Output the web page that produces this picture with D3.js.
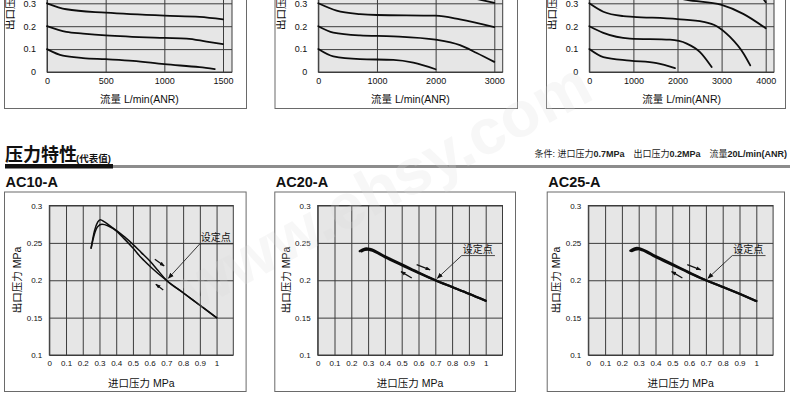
<!DOCTYPE html>
<html>
<head>
<meta charset="utf-8">
<script src="https://d3js.org/d3.v7.min.js"></script>
<style>
  body { margin: 0; background: #fff; }
  svg text { font-family: "Liberation Sans", Arial, "Noto Sans CJK SC", sans-serif; }
</style>
</head>
<body>
<svg id="chart" width="790" height="395"></svg>
<script>
// ---- data: flow characteristics (top row, only lower part visible) ----
const flowXTicks1 = [0, 500, 1000, 1500];
const flowXTicks2 = [0, 1000, 2000, 3000];
const flowXTicks3 = [0, 1000, 2000, 3000, 4000];
const flowYTicks = [0, 0.1, 0.2, 0.3];

const flow1Set03 = [[0, 0.3], [165, 0.274], [500, 0.259], [1000, 0.246], [1300, 0.241], [1500, 0.23]];
const flow1Set02 = [[0, 0.2], [165, 0.175], [307, 0.168], [500, 0.16], [1000, 0.149], [1190, 0.146], [1360, 0.133], [1500, 0.122]];
const flow1Set01 = [[0, 0.1], [136, 0.071], [307, 0.061], [500, 0.056], [733, 0.049], [1000, 0.034], [1300, 0.021], [1430, 0.013]];

const flow2Set04 = [[0, 0.4], [300, 0.365], [1000, 0.35], [2000, 0.345], [2500, 0.33], [2750, 0.316], [3000, 0.302]];
const flow2Set03 = [[0, 0.3], [312, 0.268], [710, 0.253], [1000, 0.249], [2000, 0.246], [2415, 0.23], [3000, 0.196]];
const flow2Set02 = [[0, 0.2], [256, 0.172], [710, 0.16], [1278, 0.156], [2000, 0.141], [2415, 0.117], [2700, 0.083], [3000, 0.044]];
const flow2Set01 = [[0, 0.1], [256, 0.068], [710, 0.056], [1278, 0.053], [1620, 0.041], [2000, 0.012]];

const flow3Set05 = [[0, 0.5], [1000, 0.44], [3000, 0.41], [3700, 0.37], [4000, 0.305]];
const flow3Set04 = [[0, 0.4], [300, 0.36], [1000, 0.345], [1500, 0.335], [2000, 0.323], [2210, 0.315], [3000, 0.293], [3490, 0.254], [4000, 0.191]];
const flow3Set03 = [[0, 0.3], [318, 0.263], [771, 0.244], [1000, 0.241], [2000, 0.231], [2590, 0.219], [2890, 0.2], [3190, 0.153], [3500, 0.08], [3650, 0.029]];
const flow3Set02 = [[0, 0.2], [318, 0.171], [922, 0.146], [1830, 0.141], [2210, 0.124], [2510, 0.087], [2775, 0.022]];
const flow3Set01 = [[0, 0.1], [318, 0.065], [922, 0.05], [1527, 0.039], [1943, 0.017]];

// ---- data: pressure characteristics (bottom row) ----
const models = ["AC10-A", "AC20-A", "AC25-A"];
const inletTicks = [0, 0.1, 0.2, 0.3, 0.4, 0.5, 0.6, 0.7, 0.8, 0.9, 1];
const outletTicks = [0.1, 0.15, 0.2, 0.25, 0.3];

const ac10Rise = [[0.25, 0.243], [0.27, 0.266], [0.29, 0.278], [0.305, 0.281], [0.33, 0.278], [0.38, 0.27], [0.45, 0.258], [0.5, 0.248], [0.55, 0.237], [0.6, 0.226], [0.65, 0.213], [0.7, 0.2], [0.8, 0.1833], [0.9, 0.1667], [1.0, 0.15]];
const ac10Fall = [[0.25, 0.243], [0.27, 0.262], [0.29, 0.272], [0.315, 0.275], [0.35, 0.273], [0.4, 0.266], [0.45, 0.255], [0.5, 0.243], [0.55, 0.23], [0.6, 0.219], [0.65, 0.209], [0.7, 0.2], [0.8, 0.1833], [0.9, 0.1667], [1.0, 0.15]];
const ac20Rise = [[0.25, 0.239], [0.27, 0.2415], [0.29, 0.2428], [0.31, 0.242], [0.4, 0.2322], [0.5, 0.2215], [0.6, 0.2105], [0.7, 0.2], [0.8, 0.191], [0.9, 0.182], [1.0, 0.1725]];
const ac20Fall = [[0.26, 0.2385], [0.28, 0.2405], [0.3, 0.241], [0.32, 0.2398], [0.4, 0.2308], [0.5, 0.2202], [0.6, 0.2097], [0.7, 0.2], [0.8, 0.191], [0.9, 0.182], [1.0, 0.1725]];
const ac25Rise = [[0.25, 0.2395], [0.27, 0.242], [0.29, 0.2435], [0.31, 0.2425], [0.4, 0.2325], [0.5, 0.2217], [0.6, 0.2107], [0.7, 0.2], [0.8, 0.191], [0.9, 0.1818], [1.0, 0.1722]];
const ac25Fall = [[0.26, 0.239], [0.28, 0.241], [0.3, 0.2415], [0.32, 0.2402], [0.4, 0.231], [0.5, 0.2205], [0.6, 0.2098], [0.7, 0.2], [0.8, 0.191], [0.9, 0.1818], [1.0, 0.1722]];
const setPoint = [0.7, 0.2];

const svg = d3.select("#chart");

const defs = svg.append("defs");
defs.append("marker").attr("id", "head").attr("viewBox", "0 0 10 10")
  .attr("refX", 9).attr("refY", 5).attr("markerWidth", 6).attr("markerHeight", 6)
  .attr("markerUnits", "userSpaceOnUse").attr("orient", "auto")
  .append("path").attr("d", "M0,1 L10,5 L0,9 Z").attr("fill", "#111");
defs.append("marker").attr("id", "smallHead").attr("viewBox", "0 0 10 10")
  .attr("refX", 9).attr("refY", 5).attr("markerWidth", 5).attr("markerHeight", 5)
  .attr("markerUnits", "userSpaceOnUse").attr("orient", "auto")
  .append("path").attr("d", "M0,1 L10,5 L0,9 Z").attr("fill", "#111");

function styleAxis(sel, size) {
  sel.attr("font-family", null).attr("font-size", size);
  sel.select(".domain").remove();
  sel.selectAll(".tick line").attr("stroke", "#3c3c3c");
  sel.selectAll(".tick text").attr("fill", "#111");
}

function panel(p) {
  const g = svg.append("g");
  const x = d3.scaleLinear().domain(p.xDomain).range(p.xRange);
  const y = d3.scaleLinear().domain(p.yDomain).range(p.yRange);
  const left = p.xRange[0], right = p.plotRight, bottom = p.yRange[0], top = p.plotTop;

  g.append("rect").attr("x", p.box[0] + 0.5).attr("y", p.box[1] + 0.5)
    .attr("width", p.box[2] - p.box[0]).attr("height", p.box[3] - p.box[1])
    .attr("fill", "#fff").attr("stroke", "#6a6a6a");
  g.append("rect").attr("x", left).attr("y", top)
    .attr("width", right - left).attr("height", bottom - top).attr("fill", "#e6e6e6");

  g.append("g").attr("transform", `translate(0,${bottom})`)
    .call(d3.axisBottom(x).tickValues(p.xTicks).tickSize(-(bottom - top)).tickPadding(p.xPad).tickFormat(d3.format("~g")))
    .call(s => styleAxis(s, p.tickSize));
  g.append("g").attr("transform", `translate(${left},0)`)
    .call(d3.axisLeft(y).tickValues(p.yTicks).tickSize(-(right - left)).tickPadding(p.yPad).tickFormat(d3.format("~g")))
    .call(s => styleAxis(s, p.tickSize));
  g.append("rect").attr("x", left).attr("y", top)
    .attr("width", right - left).attr("height", bottom - top)
    .attr("fill", "none").attr("stroke", "#3c3c3c");

  const line = d3.line().x(d => x(d[0])).y(d => y(d[1])).curve(d3.curveMonotoneX);
  p.curves.forEach(c => {
    g.append("path").datum(c).attr("d", line).attr("fill", "none")
      .attr("stroke", "#0d0d0d").attr("stroke-width", p.lineWidth)
      .attr("stroke-linecap", "round").attr("stroke-linejoin", "round");
  });

  // axis titles
  g.append("text").attr("x", (left + right) / 2).attr("y", p.xTitleY)
    .attr("text-anchor", "middle").attr("font-size", 10.5).attr("fill", "#111").text(p.xTitle);
  g.append("text").attr("transform", `translate(${left + p.yTitleDx},${p.yTitleY}) rotate(-90)`)
    .attr("text-anchor", p.yTitleAnchor).attr("dominant-baseline", "central")
    .attr("font-size", 10.5).attr("fill", "#111").text("出口压力 MPa");

  if (p.note) {
    const n = p.note;
    p.arrows.forEach(a => {
      g.append("line").attr("x1", x(a[0][0])).attr("y1", y(a[0][1]))
        .attr("x2", x(a[1][0])).attr("y2", y(a[1][1]))
        .attr("stroke", "#111").attr("stroke-width", 1.3).attr("marker-end", "url(#smallHead)");
    });
    const ux = x(n.from[0]), uy = y(n.from[1]);
    g.append("line").attr("x1", ux).attr("y1", uy).attr("x2", x(n.to)).attr("y2", uy)
      .attr("stroke", "#222").attr("stroke-width", 0.8);
    g.append("line").attr("x1", ux).attr("y1", uy).attr("x2", x(setPoint[0]) + 2).attr("y2", y(setPoint[1]) - 2)
      .attr("stroke", "#222").attr("stroke-width", 0.9).attr("marker-end", "url(#head)");
    g.append("text").attr("x", ux + 1).attr("y", uy - 2.5).attr("font-size", 10).attr("fill", "#111").text("设定点");
  }
  return g;
}

// ---- top row: flow characteristics ----
const topBase = { yDomain: [0, 0.3], yRange: [72, 3.3], plotTop: -50, yTicks: flowYTicks,
  xPad: 6, yPad: 11, tickSize: 9, lineWidth: 1.8, xTitle: "流量 L/min(ANR)", xTitleY: 103,
  yTitleDx: -37, yTitleY: 30, yTitleAnchor: "start" };
panel({ ...topBase, box: [4, -60, 246, 108], xDomain: [0, 1500], xRange: [47, 223], plotRight: 232,
  xTicks: flowXTicks1, curves: [flow1Set03, flow1Set02, flow1Set01] });
panel({ ...topBase, box: [274.5, -60, 517, 108], xDomain: [0, 3000], xRange: [318.3, 494.3], plotRight: 502.7,
  xTicks: flowXTicks2, curves: [flow2Set04, flow2Set03, flow2Set02, flow2Set01] });
panel({ ...topBase, box: [546, -60, 785, 108], xDomain: [0, 4000], xRange: [589.3, 765.7], plotRight: 774,
  xTicks: flowXTicks3, curves: [flow3Set05, flow3Set04, flow3Set03, flow3Set02, flow3Set01] });

// ---- section header ----
svg.append("text").attr("x", 5).attr("y", 161).attr("font-size", 18).attr("font-weight", "bold")
  .attr("fill", "#111").text("压力特性");
svg.append("text").attr("x", 76).attr("y", 162).attr("font-size", 9.5).attr("font-weight", "bold")
  .attr("fill", "#111").text("(代表值)");
svg.append("rect").attr("x", 5).attr("y", 164).attr("width", 108).attr("height", 4.5).attr("fill", "#111");
svg.append("rect").attr("x", 113).attr("y", 165).attr("width", 677).attr("height", 3).attr("fill", "#8c8c8c");

const cond = svg.append("text").attr("x", 787).attr("y", 157).attr("text-anchor", "end")
  .attr("font-size", 9).attr("fill", "#222");
[["条件: 进口压力", false], ["0.7MPa", true], ["　出口压力", false], ["0.2MPa", true], ["　流量", false], ["20L/min(ANR)", true]]
  .forEach(([t, b]) => cond.append("tspan").attr("font-weight", b ? "bold" : null).text(t));

// ---- bottom row: pressure characteristics ----
const boxX = [[4, 245.6], [274.3, 515], [546.7, 784]];
const plotX = [[49.3, 233.3], [317.7, 502.5], [588.3, 773.1]];
const riseCurves = [ac10Rise, ac20Rise, ac25Rise];
const fallCurves = [ac10Fall, ac20Fall, ac25Fall];
const arrowSets = [
  [[[0.631, 0.228], [0.687, 0.219]], [[0.681, 0.187], [0.637, 0.1946]]],
  [[[0.589, 0.221], [0.669, 0.2138]], [[0.56, 0.203], [0.496, 0.2116]]],
  [[[0.589, 0.221], [0.669, 0.2138]], [[0.56, 0.203], [0.496, 0.2116]]]
];
const notes = [
  { from: [0.9, 0.2487], to: 1.098 },
  { from: [0.857, 0.233], to: 1.055 },
  { from: [0.857, 0.233], to: 1.055 }
];

models.forEach((m, i) => {
  svg.append("text").attr("x", boxX[i][0] + 1.5).attr("y", 186.5).attr("font-size", 14.5)
    .attr("font-weight", "bold").attr("fill", "#111").text(m);
  panel({ box: [boxX[i][0], 191.5, boxX[i][1], 391], xDomain: [0, 1.1], xRange: plotX[i], plotRight: plotX[i][1],
    yDomain: [0.1, 0.3], yRange: [355, 205.5], plotTop: 205.5, xTicks: inletTicks, yTicks: outletTicks,
    xPad: 5, yPad: 7, tickSize: 8, lineWidth: i === 0 ? 1.5 : 2.2, curves: [riseCurves[i], fallCurves[i]],
    xTitle: "进口压力 MPa", xTitleY: 387, yTitleDx: -32, yTitleY: 280, yTitleAnchor: "middle",
    arrows: arrowSets[i], note: notes[i] });
});

// faint watermark
svg.append("text").attr("transform", "translate(395,205) rotate(-28)").attr("text-anchor", "middle")
  .attr("font-size", 64).attr("font-weight", "bold").attr("fill", "#dcdcdc").attr("opacity", 0.22)
  .text("www.ehsy.com");
</script>
</body>
</html>
